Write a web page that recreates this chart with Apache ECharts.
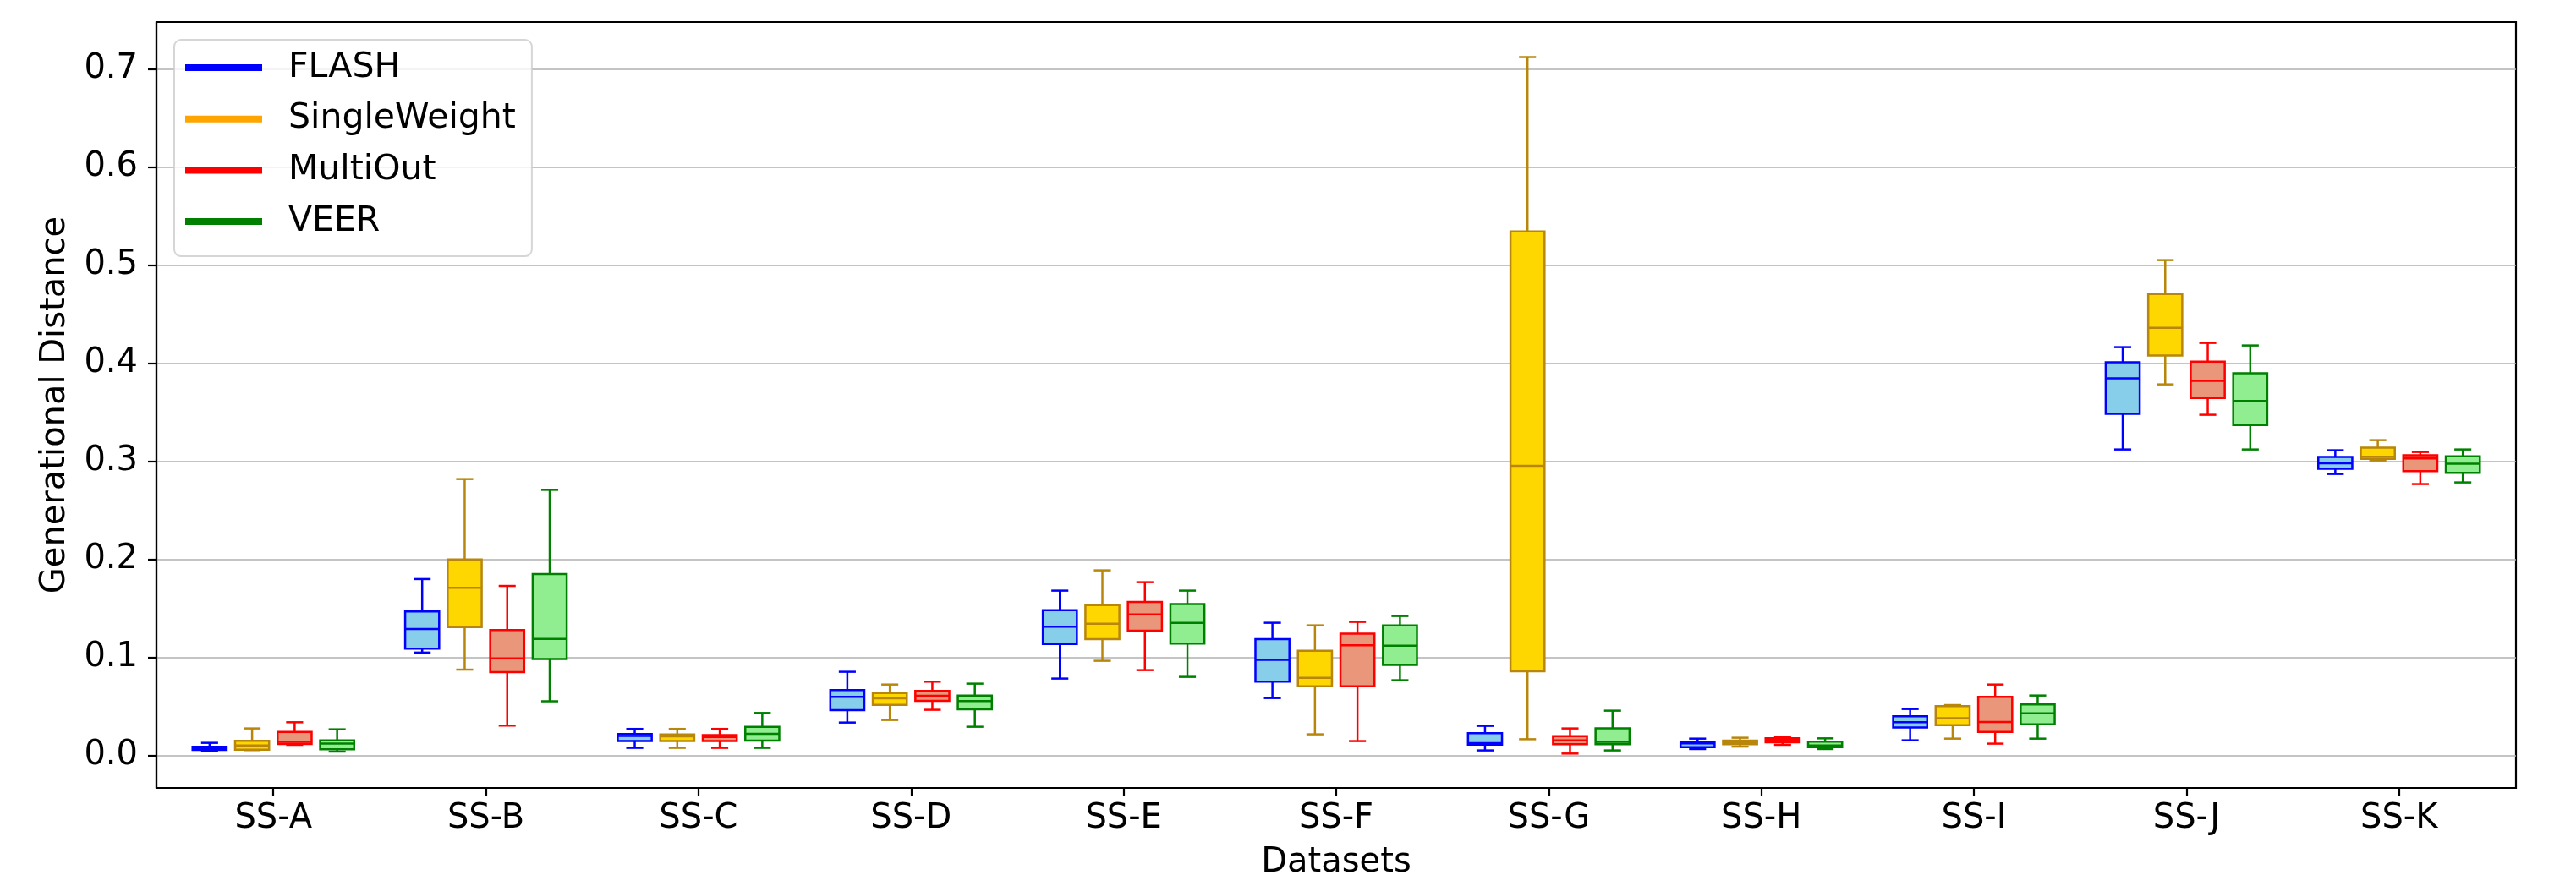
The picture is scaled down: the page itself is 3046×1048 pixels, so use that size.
<!DOCTYPE html>
<html>
<head>
<meta charset="utf-8">
<script src="https://cdn.jsdelivr.net/npm/echarts@6/dist/echarts.min.js"></script>
<style>
html,body{margin:0;padding:0;background:#ffffff;}
#chart{width:3046px;height:1048px;}
</style>
</head>
<body>
<div id="chart"></div>
<script>
// ---------- data ----------
const categories = ['SS-A','SS-B','SS-C','SS-D','SS-E','SS-F','SS-G','SS-H','SS-I','SS-J','SS-K'];
const methods = ['FLASH','SingleWeight','MultiOut','VEER'];
const yTicks = [0.0, 0.1, 0.2, 0.3, 0.4, 0.5, 0.6, 0.7];

// each row: [lower whisker, Q1, median, Q3, upper whisker]
const flash = [
  [0.0049, 0.0057, 0.0072, 0.0089, 0.0129],
  [0.105, 0.109, 0.129, 0.147, 0.180],
  [0.0078, 0.0147, 0.0200, 0.0218, 0.0271],
  [0.0336, 0.0463, 0.0598, 0.0667, 0.0854],
  [0.0785, 0.1138, 0.1314, 0.1483, 0.1682],
  [0.0586, 0.0753, 0.0975, 0.1187, 0.1354],
  [0.0052, 0.0112, 0.0127, 0.0227, 0.0302],
  [0.0066, 0.0086, 0.0123, 0.0141, 0.0172],
  [0.0155, 0.0285, 0.0339, 0.0399, 0.0474],
  [0.3122, 0.3485, 0.3847, 0.4011, 0.4166],
  [0.2872, 0.2924, 0.2981, 0.3045, 0.3114]
];
const singleWeight = [
  [0.0055, 0.0060, 0.0103, 0.0149, 0.0276],
  [0.0876, 0.131, 0.171, 0.200, 0.282],
  [0.0078, 0.0147, 0.0195, 0.0215, 0.0271],
  [0.0362, 0.0517, 0.0583, 0.0638, 0.0724],
  [0.0966, 0.1187, 0.1345, 0.1535, 0.1889],
  [0.0216, 0.0707, 0.0793, 0.1069, 0.1328],
  [0.0166, 0.0859, 0.2955, 0.5346, 0.7125],
  [0.0091, 0.0115, 0.0135, 0.0152, 0.0181],
  [0.0172, 0.0310, 0.0380, 0.0503, 0.0514],
  [0.3786, 0.4080, 0.4364, 0.4709, 0.5054],
  [0.3010, 0.3027, 0.3047, 0.3140, 0.3217]
];
const multiOut = [
  [0.0109, 0.0117, 0.0138, 0.0241, 0.0339],
  [0.0305, 0.085, 0.099, 0.128, 0.173],
  [0.0078, 0.0147, 0.0189, 0.0209, 0.0271],
  [0.0466, 0.0557, 0.0609, 0.0658, 0.0753],
  [0.0871, 0.1273, 0.1440, 0.1567, 0.1768],
  [0.0147, 0.0707, 0.1124, 0.1242, 0.1363],
  [0.0020, 0.0115, 0.0155, 0.0198, 0.0276],
  [0.0109, 0.0135, 0.0158, 0.0175, 0.0187],
  [0.0121, 0.0241, 0.0342, 0.0598, 0.0724],
  [0.3476, 0.3648, 0.3821, 0.4019, 0.4209],
  [0.2769, 0.2901, 0.3030, 0.3062, 0.3096]
];
const veer = [
  [0.0040, 0.0063, 0.0121, 0.0155, 0.0267],
  [0.0553, 0.0985, 0.119, 0.185, 0.271],
  [0.0078, 0.0152, 0.0221, 0.0293, 0.0434],
  [0.0293, 0.0471, 0.0555, 0.0612, 0.0733],
  [0.0802, 0.1141, 0.1354, 0.1544, 0.1682],
  [0.0768, 0.0923, 0.1121, 0.1328, 0.1423],
  [0.0052, 0.0115, 0.0138, 0.0276, 0.0457],
  [0.0066, 0.0086, 0.0103, 0.0141, 0.0175],
  [0.0172, 0.0319, 0.0431, 0.0520, 0.0612],
  [0.3122, 0.3372, 0.3617, 0.3899, 0.4183],
  [0.2786, 0.2883, 0.2976, 0.3053, 0.3122]
];

// ---------- styling ----------
const seriesValues = [flash, singleWeight, multiOut, veer];
const boxFill   = ['#87CEEB', '#FFD700', '#E9967A', '#90EE90'];
const boxEdge   = ['#0000FF', '#B8860B', '#FF0000', '#008000'];
const legendCol = ['#0000FF', '#FFA500', '#FF0000', '#008000'];
const offsets   = [-0.3, -0.1, 0.1, 0.3];
const HALF_BOX = 0.08, HALF_CAP = 0.04, LW = 2.5;
const FONT = 'DejaVu Sans';

function makeRender(s) {
  return function (params, api) {
    const xc = api.value(0) + offsets[s];
    const lo = api.coord([xc, api.value(1)]);
    const q1 = api.coord([xc, api.value(2)]);
    const md = api.coord([xc, api.value(3)]);
    const q3 = api.coord([xc, api.value(4)]);
    const hi = api.coord([xc, api.value(5)]);
    const hb = api.size([HALF_BOX, 0])[0];
    const hc = api.size([HALF_CAP, 0])[0];
    const x = lo[0];
    const ls = { stroke: boxEdge[s], lineWidth: LW };
    return {
      type: 'group',
      children: [
        { type: 'rect', shape: { x: x - hb, y: q3[1], width: 2 * hb, height: q1[1] - q3[1] },
          style: { fill: boxFill[s], stroke: boxEdge[s], lineWidth: LW } },
        { type: 'line', shape: { x1: x, y1: q3[1], x2: x, y2: hi[1] }, style: ls },
        { type: 'line', shape: { x1: x, y1: q1[1], x2: x, y2: lo[1] }, style: ls },
        { type: 'line', shape: { x1: x - hc, y1: hi[1], x2: x + hc, y2: hi[1] }, style: ls },
        { type: 'line', shape: { x1: x - hc, y1: lo[1], x2: x + hc, y2: lo[1] }, style: ls },
        { type: 'line', shape: { x1: x - hb, y1: md[1], x2: x + hb, y2: md[1] }, style: ls }
      ]
    };
  };
}

const series = methods.map((name, s) => ({
  name: name,
  type: 'custom',
  renderItem: makeRender(s),
  itemStyle: { color: legendCol[s] },
  encode: { x: 0, y: [1, 2, 3, 4, 5] },
  data: seriesValues[s].map((r, i) => [i].concat(r)),
  z: 3
}));

const catIdx = categories.map((c, i) => i);

const chart = echarts.init(document.getElementById('chart'), null, { renderer: 'canvas' });
chart.setOption({
  animation: false,
  backgroundColor: '#ffffff',
  textStyle: { fontFamily: FONT },
  grid: {
    left: 185, right: 71, top: 26, bottom: 116,
    show: true, borderColor: '#000000', borderWidth: 2.2, backgroundColor: 'transparent',
    outerBoundsMode: 'none', containLabel: false
  },
  legend: {
    orient: 'vertical',
    left: 206, top: 47,
    padding: [10, 19, 18, 13],
    itemWidth: 91, itemHeight: 8, itemGap: 14.7,
    icon: 'rect',
    backgroundColor: 'rgba(255,255,255,0.8)',
    borderColor: 'rgba(204,204,204,0.8)', borderWidth: 2, borderRadius: 8,
    textStyle: { fontFamily: FONT, fontSize: 41, color: '#000', lineHeight: 46, padding: [0, 0, 0, 26] },
    data: methods.map((m, s) => ({ name: m, icon: 'rect', itemStyle: { color: legendCol[s] } }))
  },
  xAxis: {
    type: 'value',
    min: -0.55, max: 10.55,
    name: 'Datasets', nameLocation: 'middle', nameGap: 69,
    nameTextStyle: { fontFamily: FONT, fontSize: 40, color: '#000', lineHeight: 40 },
    axisLine: { show: true, onZero: false, lineStyle: { color: '#000', width: 2.2 } },
    axisTick: { show: true, customValues: catIdx, length: 10, lineStyle: { color: '#000', width: 2.2 } },
    axisLabel: { customValues: catIdx, formatter: v => categories[Math.round(v)] || '',
                 fontFamily: FONT, fontSize: 40, color: '#000', margin: 17, lineHeight: 40 },
    splitLine: { show: false }
  },
  yAxis: {
    type: 'value',
    min: -0.0331, max: 0.7483,
    name: 'Generational Distance', nameLocation: 'middle', nameGap: 99, nameRotate: 90,
    nameTextStyle: { fontFamily: FONT, fontSize: 40, color: '#000', lineHeight: 40 },
    axisLine: { show: true, onZero: false, lineStyle: { color: '#000', width: 2.2 } },
    axisTick: { show: true, customValues: yTicks, length: 10, lineStyle: { color: '#000', width: 2.2 } },
    axisLabel: { customValues: yTicks, formatter: v => Number(v).toFixed(1),
                 fontFamily: FONT, fontSize: 40, color: '#000', margin: 22, lineHeight: 40 },
    splitLine: { show: true, lineStyle: { color: '#b0b0b0', width: 1.7 } }
  },
  series: series
});
</script>
</body>
</html>
